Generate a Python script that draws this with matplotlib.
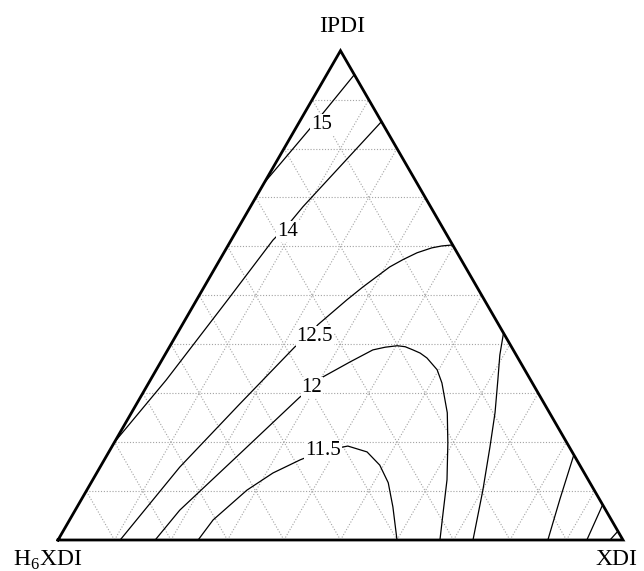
import numpy as np
import matplotlib
matplotlib.use("Agg")
import matplotlib.pyplot as plt

plt.rcParams["font.family"] = ["Liberation Serif", "DejaVu Serif"]
plt.rcParams["mathtext.fontset"] = "custom"
plt.rcParams["mathtext.rm"] = "Liberation Serif"

# Components at the three corners
corner_top = "IPDI"
corner_left = r"H$_\mathregular{6}$XDI"
corner_right = "XDI"

# Iso-value lines, compositions in % (IPDI, XDI); H6XDI is the remainder
c15_ipdi = [95.1, 87.3, 83.8, 73.0]
c15_xdi = [4.9, 3.3, 2.5, 0.0]

c14_ipdi = [85.5, 68.1, 64.4, 61.3, 49.1, 32.7, 20.0]
c14_xdi = [14.5, 9.3, 8.5, 7.4, 5.5, 2.8, 0.0]

c125_ipdi = [60.3, 60.1, 59.7, 58.7, 57.3, 55.8, 51.7, 49.1, 44.0, 40.9, 39.5,
             27.6, 14.9, 0.0]
c125_xdi = [39.7, 37.9, 36.3, 34.2, 32.4, 30.8, 28.1, 26.6, 24.0, 23.3, 22.2,
            18.2, 14.1, 11.0]

c12_ipdi = [0.0, 6.1, 17.7, 29.2, 31.1, 33.3, 36.4, 38.85, 39.4, 39.7, 39.5,
            38.85, 38.2, 37.2, 34.8, 32.1, 26.0, 19.8, 12.3, 5.5, 0.0]
c12_xdi = [17.2, 18.5, 23.4, 28.2, 29.6, 30.2, 33.5, 36.3, 38.2, 40.2, 41.7,
           43.4, 45.0, 46.7, 49.7, 51.9, 55.9, 59.1, 62.7, 65.4, 67.6]

c115_ipdi = [0.0, 4.1, 10.2, 13.7, 16.4, 18.2, 19.2, 18.0, 15.3, 11.7, 6.75, 0.0]
c115_xdi = [24.8, 25.4, 28.35, 31.2, 34.7, 37.8, 41.7, 45.7, 49.3, 52.6, 55.9, 60.0]

r1_ipdi = [42.3, 37.8, 32.7, 26.0, 19.0, 10.2, 0.0]
r1_xdi = [57.7, 59.3, 61.5, 64.35, 66.95, 70.1, 73.45]
r2_ipdi = [17.4, 8.4, 0.0]
r2_xdi = [82.6, 84.65, 86.7]
r3_ipdi = [7.2, 0.0]
r3_xdi = [92.8, 93.6]
r4_ipdi = [1.8, 0.0]
r4_xdi = [98.2, 97.7]

levels = ["15", "14", "12.5", "12", "11.5"]
labelled = [(c15_ipdi, c15_xdi), (c14_ipdi, c14_xdi), (c125_ipdi, c125_xdi),
            (c12_ipdi, c12_xdi), (c115_ipdi, c115_xdi)]
unlabelled = [(r1_ipdi, r1_xdi), (r2_ipdi, r2_xdi), (r3_ipdi, r3_xdi), (r4_ipdi, r4_xdi)]

# where each level label sits (IPDI %, XDI %)
label_spots = [(85.0, 4.1), (63.0, 9.2), (41.5, 24.7), (31.1, 29.4), (18.3, 37.7)]


def to_xy(ipdi, xdi):
    a = np.asarray(ipdi, float) / 100.0
    b = np.asarray(xdi, float) / 100.0
    return b + a / 2.0, a * np.sqrt(3) / 2.0


fig = plt.figure(figsize=(6.44, 5.71), dpi=100)
ax = fig.add_axes([0, 0, 1, 1])
ax.set_xlim(-58 / 565, 586 / 565)
ax.set_ylim(-31 / 565, 540 / 565)
ax.axis("off")

# dotted 10 % grid
grid_kw = dict(color="#a3a3a3", lw=0.8, ls=(0, (1, 1.6)), zorder=1)
for k in range(1, 10):
    f = k * 10
    x, y = to_xy([f, f], [0, 100 - f])
    ax.plot(x, y, **grid_kw)
    x, y = to_xy([0, 100 - f], [f, f])
    ax.plot(x, y, **grid_kw)
    x, y = to_xy([0, 100 - f], [100 - f, 0])
    ax.plot(x, y, **grid_kw)

# iso-lines
for ip, xd in labelled + unlabelled:
    x, y = to_xy(ip, xd)
    ax.plot(x, y, color="black", lw=0.9, zorder=2, solid_joinstyle="round")

for lev, (ip, xd) in zip(levels, label_spots):
    x, y = to_xy(ip, xd)
    ax.text(x, y, lev, fontsize=15, ha="center", va="center", zorder=3,
            bbox=dict(facecolor="white", edgecolor="none", pad=0.8))

# triangle frame
tx, ty = to_xy([0, 0, 100, 0], [0, 100, 0, 0])
ax.plot(tx, ty, color="black", lw=2.0, zorder=4, solid_joinstyle="miter")

ax.text(0.503, 0.899, corner_top, fontsize=17, ha="center", va="baseline")
ax.text(-0.0186, -0.046, corner_left, fontsize=17, ha="center", va="baseline")
ax.text(0.988, -0.045, corner_right, fontsize=17, ha="center", va="baseline")

fig.savefig("out.png", dpi=100)
